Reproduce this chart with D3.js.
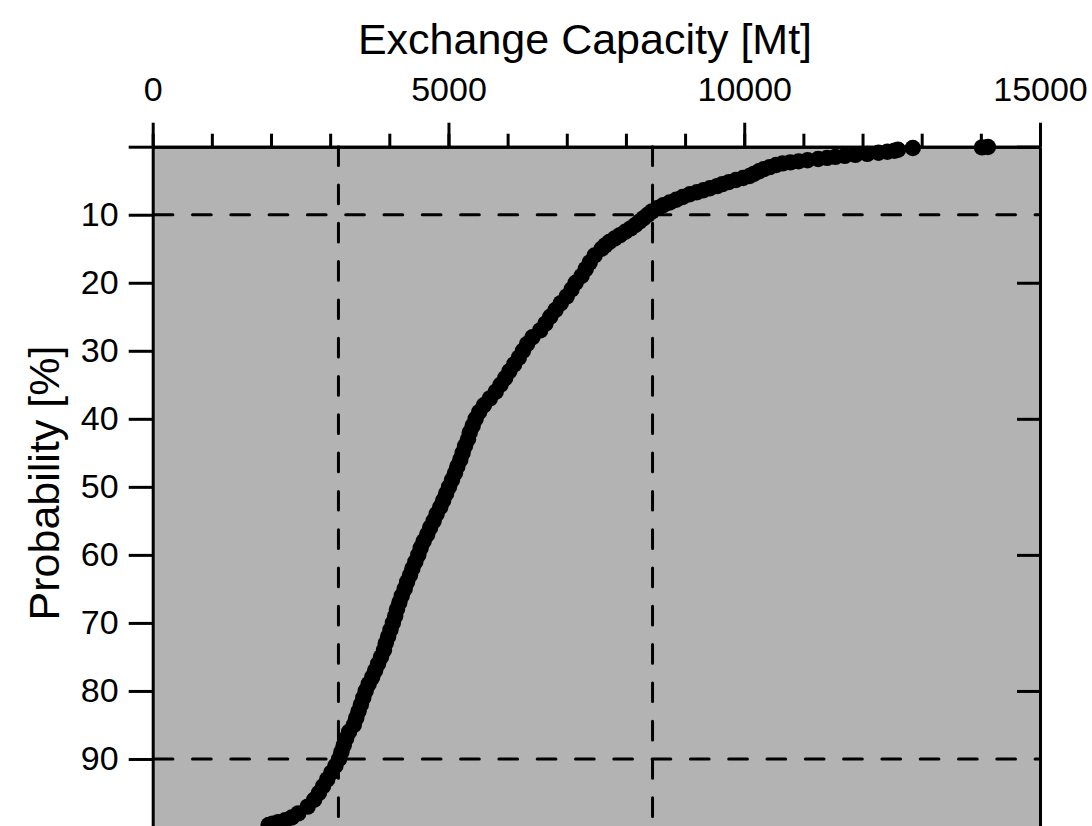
<!DOCTYPE html>
<html>
<head>
<meta charset="utf-8">
<script src="https://cdn.jsdelivr.net/npm/d3@7"></script>
<style>
  body { margin: 0; background: #fff; }
  svg { display: block; font-family: "Liberation Sans", Arial, sans-serif; }
</style>
</head>
<body>
<div id="vis"></div>
<script>
// exceedance probability [%] and exchange capacity [Mt]
var probability = [0.05, 0.1, 0.2, 0.45, 0.6, 0.75, 0.9, 1.05, 1.2, 1.35, 1.5, 1.65, 1.8, 2.0, 2.15, 2.3, 2.45, 2.7, 3.0, 3.3, 3.6, 4.0, 4.3, 4.6, 4.9, 5.2, 5.5, 5.8, 6.1, 6.4, 6.7, 7.0, 7.4, 7.8, 8.2, 8.6, 9.0, 9.5,
  10, 10.5, 11, 11.5, 12, 12.5, 13, 13.5, 14, 14.5, 15, 16, 17, 18, 19, 20, 21, 22, 23, 24, 25, 26, 27, 28, 29, 30,
  31, 32, 33, 34, 35, 36, 37, 38, 39, 40, 41, 42, 43, 44, 45, 46, 47, 48, 49, 50, 51, 52, 53, 54, 55, 56, 57, 58, 59, 60,
  61, 62, 63, 64, 65, 66, 67, 68, 69, 70, 71, 72, 73, 74, 75, 76, 77, 78, 79, 80, 81, 82, 83, 84, 85, 86, 87, 88, 89, 90,
  91, 92, 93, 94, 95, 96, 97, 98, 98.6, 99.0, 99.3, 99.5, 99.7];
var capacity = [14120, 14020, 12850, 12600, 12540, 12420, 12270, 12080, 11880, 11700, 11540, 11400, 11250, 11070, 10920, 10780, 10650, 10540, 10430, 10330, 10250, 10160, 10090, 9980, 9860, 9740, 9630, 9540, 9420, 9310, 9200, 9080, 8960, 8850, 8740, 8630, 8540, 8440,
  8370, 8300, 8230, 8160, 8080, 7990, 7900, 7810, 7720, 7650, 7590, 7470, 7390, 7320, 7250, 7150, 7080, 7000, 6900, 6810, 6720, 6640, 6550, 6420, 6330, 6260,
  6190, 6110, 6030, 5960, 5880, 5800, 5700, 5600, 5520, 5460, 5410, 5360, 5330, 5280, 5240, 5200, 5150, 5110, 5060, 5010, 4960, 4910, 4860, 4800, 4750, 4690, 4640, 4580, 4530, 4490,
  4440, 4390, 4350, 4300, 4260, 4210, 4170, 4130, 4100, 4060, 4020, 3980, 3940, 3910, 3860, 3810, 3760, 3710, 3650, 3600, 3560, 3520, 3480, 3440, 3400, 3320, 3270, 3230, 3190, 3150,
  3090, 3020, 2950, 2880, 2810, 2730, 2620, 2460, 2350, 2240, 2120, 2030, 1960];

// P90 / P10 guide lines
var guideX = [3140, 8450];
var guideY = [10, 90];

var xTicks = [0, 5000, 10000, 15000];
var yTicks = [0, 10, 20, 30, 40, 50, 60, 70, 80, 90, 100];

var data = probability.map((p, i) => ({p: p, v: capacity[i]}));

// set the dimensions and margins of the graph
var margin = {top: 146.7, right: 52, bottom: -1, left: 152.7},
  width = 1092 - margin.left - margin.right,
  height = 826 - margin.top - margin.bottom;

var svg = d3.select("#vis").append("svg")
    .attr("width", 1092)
    .attr("height", 826)
  .append("g")
    .attr("transform", "translate(" + margin.left + "," + margin.top + ")");

var x = d3.scaleLinear().domain([0, 15000]).range([0, width]);
var y = d3.scaleLinear().domain([0, 100]).range([0, height]);

// grey plot area
svg.append("rect")
  .attr("width", width)
  .attr("height", height)
  .style("fill", "#b3b3b3");

// dashed guides
svg.append("g").selectAll("line").data(guideX).enter().append("line")
  .attr("x1", d => x(d)).attr("x2", d => x(d))
  .attr("y1", 0).attr("y2", height)
  .style("stroke", "#000").style("stroke-width", 3)
  .style("stroke-dasharray", "18.7 19.6").style("stroke-linecap", "round");

svg.append("g").selectAll("line").data(guideY).enter().append("line")
  .attr("x1", 1.5).attr("x2", width)
  .attr("y1", d => y(d)).attr("y2", d => y(d))
  .style("stroke", "#000").style("stroke-width", 3)
  .style("stroke-dasharray", "18.7 19.6").style("stroke-linecap", "round");

// the points
svg.append("g").selectAll("circle").data(data).enter().append("circle")
  .attr("cx", d => x(d.v))
  .attr("cy", d => y(d.p))
  .attr("r", 8.2)
  .style("fill", "#000");

// top axis, minor then major ticks
svg.append("g")
  .attr("class", "axis")
  .call(d3.axisTop(x).tickValues(d3.range(0, 15001, 1000)).tickSize(13).tickSizeOuter(0).tickFormat(""));

svg.append("g")
  .attr("class", "axis")
  .call(d3.axisTop(x).tickValues(xTicks).tickSize(24).tickSizeOuter(0).tickPadding(22).tickFormat(d3.format("d")));

// left axis
svg.append("g")
  .attr("class", "axis")
  .call(d3.axisLeft(y).tickValues(yTicks).tickSize(24).tickSizeOuter(0).tickPadding(10)
    .tickFormat(d => (d == 0 || d == 100) ? "" : d));

// right axis, ticks inward
svg.append("g")
  .attr("class", "axis")
  .attr("transform", "translate(" + width + ",0)")
  .call(d3.axisRight(y).tickValues([0, 20, 40, 60, 80, 100]).tickSize(-23).tickSizeOuter(0).tickFormat(""));

svg.selectAll(".axis path, .axis line")
  .style("stroke", "#000")
  .style("stroke-width", 3);
svg.selectAll(".axis text")
  .style("font-family", "'Liberation Sans', Arial, sans-serif")
  .style("font-size", "34px")
  .style("fill", "#000");

// titles
svg.append("text")
  .attr("x", 585 - margin.left)
  .attr("y", 54 - margin.top)
  .attr("text-anchor", "middle")
  .style("font-size", "43px")
  .text("Exchange Capacity [Mt]");

svg.append("text")
  .attr("transform", "translate(" + (59 - margin.left) + "," + (483 - margin.top) + ") rotate(-90)")
  .attr("text-anchor", "middle")
  .style("font-size", "43px")
  .text("Probability [%]");
</script>
</body>
</html>
